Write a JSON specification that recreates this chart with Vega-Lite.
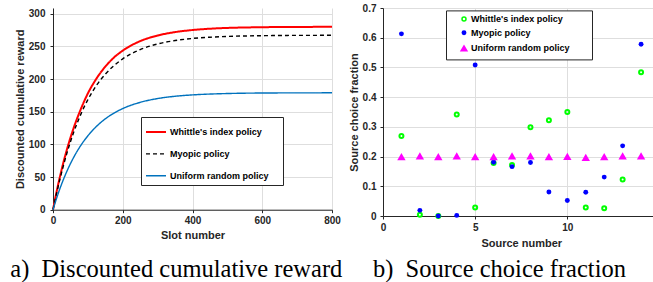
{
  "$schema": "https://vega.github.io/schema/vega-lite/v6.json",
  "padding": {"left": 10, "top": 3, "right": 0, "bottom": 0},
  "background": "white",
  "title": {
    "text": "a)\u00a0\u00a0Discounted cumulative reward\u00a0\u00a0\u00a0\u00a0\u00a0b)\u00a0\u00a0Source choice fraction",
    "orient": "bottom",
    "anchor": "start",
    "font": "Liberation Serif",
    "fontSize": 24.5,
    "fontWeight": "normal",
    "color": "black",
    "offset": 10,
    "dx": -4
  },
  "config": {
    "view": {"stroke": null},
    "axis": {
      "labelFont": "Liberation Sans",
      "labelFontWeight": "bold",
      "labelFontSize": 10,
      "labelColor": "#262626",
      "titleFont": "Liberation Sans",
      "titleFontSize": 11,
      "titleFontWeight": "bold",
      "titleColor": "#262626",
      "gridColor": "#dedede",
      "domainColor": "#262626",
      "tickColor": "#262626",
      "tickSize": 3,
      "labelFlush": false
    }
  },
  "resolve": {
    "scale": {"color": "independent", "fill": "independent", "stroke": "independent", "shape": "independent", "size": "independent", "strokeDash": "independent", "strokeWidth": "independent"},
    "legend": {"color": "independent", "fill": "independent", "stroke": "independent", "shape": "independent", "size": "independent", "strokeDash": "independent", "strokeWidth": "independent"}
  },
  "datasets": {
    "reward": [
      {"t": 0, "policy": "Whittle's index policy", "r": 0},
      {"t": 10, "policy": "Whittle's index policy", "r": 26.7},
      {"t": 20, "policy": "Whittle's index policy", "r": 50.8},
      {"t": 30, "policy": "Whittle's index policy", "r": 72.6},
      {"t": 40, "policy": "Whittle's index policy", "r": 92.3},
      {"t": 60, "policy": "Whittle's index policy", "r": 126.3},
      {"t": 80, "policy": "Whittle's index policy", "r": 154.2},
      {"t": 100, "policy": "Whittle's index policy", "r": 178.0},
      {"t": 125, "policy": "Whittle's index policy", "r": 201.0},
      {"t": 150, "policy": "Whittle's index policy", "r": 219.0},
      {"t": 175, "policy": "Whittle's index policy", "r": 233.0},
      {"t": 200, "policy": "Whittle's index policy", "r": 243.5},
      {"t": 250, "policy": "Whittle's index policy", "r": 258.0},
      {"t": 300, "policy": "Whittle's index policy", "r": 266.6},
      {"t": 350, "policy": "Whittle's index policy", "r": 271.8},
      {"t": 400, "policy": "Whittle's index policy", "r": 275.0},
      {"t": 450, "policy": "Whittle's index policy", "r": 277.0},
      {"t": 500, "policy": "Whittle's index policy", "r": 278.2},
      {"t": 600, "policy": "Whittle's index policy", "r": 279.3},
      {"t": 700, "policy": "Whittle's index policy", "r": 279.7},
      {"t": 800, "policy": "Whittle's index policy", "r": 279.9},
      {"t": 0, "policy": "Myopic policy", "r": 0},
      {"t": 10, "policy": "Myopic policy", "r": 24.4},
      {"t": 20, "policy": "Myopic policy", "r": 47.0},
      {"t": 30, "policy": "Myopic policy", "r": 67.8},
      {"t": 40, "policy": "Myopic policy", "r": 86.8},
      {"t": 60, "policy": "Myopic policy", "r": 119.5},
      {"t": 80, "policy": "Myopic policy", "r": 146.3},
      {"t": 100, "policy": "Myopic policy", "r": 168.5},
      {"t": 125, "policy": "Myopic policy", "r": 190.5},
      {"t": 150, "policy": "Myopic policy", "r": 207.4},
      {"t": 175, "policy": "Myopic policy", "r": 220.6},
      {"t": 200, "policy": "Myopic policy", "r": 230.9},
      {"t": 250, "policy": "Myopic policy", "r": 245.1},
      {"t": 300, "policy": "Myopic policy", "r": 253.7},
      {"t": 350, "policy": "Myopic policy", "r": 258.9},
      {"t": 400, "policy": "Myopic policy", "r": 262.1},
      {"t": 450, "policy": "Myopic policy", "r": 264.0},
      {"t": 500, "policy": "Myopic policy", "r": 265.2},
      {"t": 600, "policy": "Myopic policy", "r": 266.3},
      {"t": 700, "policy": "Myopic policy", "r": 266.8},
      {"t": 800, "policy": "Myopic policy", "r": 266.9},
      {"t": 0, "policy": "Uniform random policy", "r": 0},
      {"t": 10, "policy": "Uniform random policy", "r": 17.0},
      {"t": 20, "policy": "Uniform random policy", "r": 32.5},
      {"t": 30, "policy": "Uniform random policy", "r": 46.4},
      {"t": 40, "policy": "Uniform random policy", "r": 59.0},
      {"t": 60, "policy": "Uniform random policy", "r": 80.8},
      {"t": 80, "policy": "Uniform random policy", "r": 98.6},
      {"t": 100, "policy": "Uniform random policy", "r": 113.1},
      {"t": 125, "policy": "Uniform random policy", "r": 127.7},
      {"t": 150, "policy": "Uniform random policy", "r": 139.1},
      {"t": 175, "policy": "Uniform random policy", "r": 147.9},
      {"t": 200, "policy": "Uniform random policy", "r": 154.8},
      {"t": 250, "policy": "Uniform random policy", "r": 164.3},
      {"t": 300, "policy": "Uniform random policy", "r": 170.1},
      {"t": 350, "policy": "Uniform random policy", "r": 173.6},
      {"t": 400, "policy": "Uniform random policy", "r": 175.7},
      {"t": 450, "policy": "Uniform random policy", "r": 177.0},
      {"t": 500, "policy": "Uniform random policy", "r": 177.8},
      {"t": 600, "policy": "Uniform random policy", "r": 178.6},
      {"t": 700, "policy": "Uniform random policy", "r": 178.8},
      {"t": 800, "policy": "Uniform random policy", "r": 178.9}
    ],
    "fraction": [
      {"source": 1, "policy": "Whittle's index policy", "f": 0.269},
      {"source": 2, "policy": "Whittle's index policy", "f": 0.004},
      {"source": 3, "policy": "Whittle's index policy", "f": 0.0},
      {"source": 4, "policy": "Whittle's index policy", "f": 0.342},
      {"source": 5, "policy": "Whittle's index policy", "f": 0.029},
      {"source": 6, "policy": "Whittle's index policy", "f": 0.178},
      {"source": 7, "policy": "Whittle's index policy", "f": 0.172},
      {"source": 8, "policy": "Whittle's index policy", "f": 0.299},
      {"source": 9, "policy": "Whittle's index policy", "f": 0.322},
      {"source": 10, "policy": "Whittle's index policy", "f": 0.35},
      {"source": 11, "policy": "Whittle's index policy", "f": 0.029},
      {"source": 12, "policy": "Whittle's index policy", "f": 0.026},
      {"source": 13, "policy": "Whittle's index policy", "f": 0.123},
      {"source": 14, "policy": "Whittle's index policy", "f": 0.484},
      {"source": 1, "policy": "Myopic policy", "f": 0.613},
      {"source": 2, "policy": "Myopic policy", "f": 0.019},
      {"source": 3, "policy": "Myopic policy", "f": 0.0},
      {"source": 4, "policy": "Myopic policy", "f": 0.002},
      {"source": 5, "policy": "Myopic policy", "f": 0.508},
      {"source": 6, "policy": "Myopic policy", "f": 0.181},
      {"source": 7, "policy": "Myopic policy", "f": 0.166},
      {"source": 8, "policy": "Myopic policy", "f": 0.18},
      {"source": 9, "policy": "Myopic policy", "f": 0.081},
      {"source": 10, "policy": "Myopic policy", "f": 0.052},
      {"source": 11, "policy": "Myopic policy", "f": 0.08},
      {"source": 12, "policy": "Myopic policy", "f": 0.131},
      {"source": 13, "policy": "Myopic policy", "f": 0.236},
      {"source": 14, "policy": "Myopic policy", "f": 0.578},
      {"source": 1, "policy": "Uniform random policy", "f": 0.2},
      {"source": 2, "policy": "Uniform random policy", "f": 0.202},
      {"source": 3, "policy": "Uniform random policy", "f": 0.2},
      {"source": 4, "policy": "Uniform random policy", "f": 0.202},
      {"source": 5, "policy": "Uniform random policy", "f": 0.2},
      {"source": 6, "policy": "Uniform random policy", "f": 0.2},
      {"source": 7, "policy": "Uniform random policy", "f": 0.202},
      {"source": 8, "policy": "Uniform random policy", "f": 0.202},
      {"source": 9, "policy": "Uniform random policy", "f": 0.2},
      {"source": 10, "policy": "Uniform random policy", "f": 0.201},
      {"source": 11, "policy": "Uniform random policy", "f": 0.197},
      {"source": 12, "policy": "Uniform random policy", "f": 0.2},
      {"source": 13, "policy": "Uniform random policy", "f": 0.202},
      {"source": 14, "policy": "Uniform random policy", "f": 0.202},
      {"source": 15, "policy": "Uniform random policy", "f": 0.197}
    ]
  },
  "spacing": 7,
  "hconcat": [
    {
      "width": 279,
      "height": 201.7,
      "data": {"name": "reward"},
      "mark": {"type": "line", "interpolate": "monotone"},
      "encoding": {
        "x": {
          "field": "t", "type": "quantitative",
          "scale": {"domain": [0, 800], "nice": false},
          "axis": {"values": [0, 200, 400, 600, 800], "title": "Slot number", "labelPadding": 3, "titlePadding": 4}
        },
        "y": {
          "field": "r", "type": "quantitative",
          "scale": {"domain": [0, 308.7], "nice": false},
          "axis": {"values": [0, 50, 100, 150, 200, 250, 300], "title": "Discounted cumulative reward", "labelPadding": 5, "titlePadding": 3}
        },
        "color": {
          "field": "policy", "type": "nominal",
          "scale": {"domain": ["Whittle's index policy", "Myopic policy", "Uniform random policy"], "range": ["#ff0000", "#000000", "#0072bd"]},
          "legend": {
            "orient": "none", "legendX": 88, "legendY": 109,
            "title": " ", "titleOrient": "right", "titlePadding": 10, "titleFontSize": 9,
            "padding": 4, "strokeColor": "#262626", "fillColor": "white",
            "labelFont": "Liberation Sans", "labelFontWeight": "bold", "labelFontSize": 9, "labelColor": "black",
            "symbolSize": 400, "rowPadding": 5.9, "labelOffset": 3
          }
        },
        "strokeDash": {
          "field": "policy", "type": "nominal",
          "scale": {"domain": ["Whittle's index policy", "Myopic policy", "Uniform random policy"], "range": [[1, 0], [4, 3], [1, 0]]}
        },
        "strokeWidth": {
          "field": "policy", "type": "nominal",
          "scale": {"type": "ordinal", "domain": ["Whittle's index policy", "Myopic policy", "Uniform random policy"], "range": [2, 1.4, 1.4]}
        }
      }
    },
    {
      "width": 276.5,
      "height": 208,
      "data": {"name": "fraction"},
      "mark": {"type": "point", "strokeWidth": 2, "opacity": 1},
      "encoding": {
        "x": {
          "field": "source", "type": "quantitative",
          "scale": {"domain": [0, 15], "nice": false},
          "axis": {"values": [0, 5, 10, 15], "title": "Source number", "labelPadding": 3, "titlePadding": 5}
        },
        "y": {
          "field": "f", "type": "quantitative",
          "scale": {"domain": [0, 0.7], "nice": false},
          "axis": {"values": [0, 0.1, 0.2, 0.3, 0.4, 0.5, 0.6, 0.7], "labelExpr": "datum.value === 0 ? '0' : format(datum.value, '.1f')", "title": "Source choice fraction", "labelPadding": 4, "titlePadding": 3}
        },
        "fill": {
          "field": "policy", "type": "nominal",
          "scale": {"domain": ["Whittle's index policy", "Myopic policy", "Uniform random policy"], "range": ["transparent", "#0000ff", "#ff00ff"]},
          "legend": {
            "orient": "none", "legendX": 63, "legendY": 2.4,
            "title": " ", "titleOrient": "right", "titlePadding": 18, "titleFontSize": 9,
            "padding": 4, "strokeColor": "#262626", "fillColor": "white",
            "labelFont": "Liberation Sans", "labelFontWeight": "bold", "labelFontSize": 9, "labelColor": "black",
            "rowPadding": 2.8, "labelOffset": 2, "symbolOffset": 9
          }
        },
        "stroke": {
          "field": "policy", "type": "nominal",
          "scale": {"domain": ["Whittle's index policy", "Myopic policy", "Uniform random policy"], "range": ["#00ff00", "transparent", "transparent"]}
        },
        "shape": {
          "field": "policy", "type": "nominal",
          "scale": {"domain": ["Whittle's index policy", "Myopic policy", "Uniform random policy"], "range": ["circle", "circle", "triangle-up"]}
        },
        "size": {
          "field": "policy", "type": "nominal",
          "scale": {"type": "ordinal", "domain": ["Whittle's index policy", "Myopic policy", "Uniform random policy"], "range": [16, 24, 70]}
        }
      }
    }
  ]
}
